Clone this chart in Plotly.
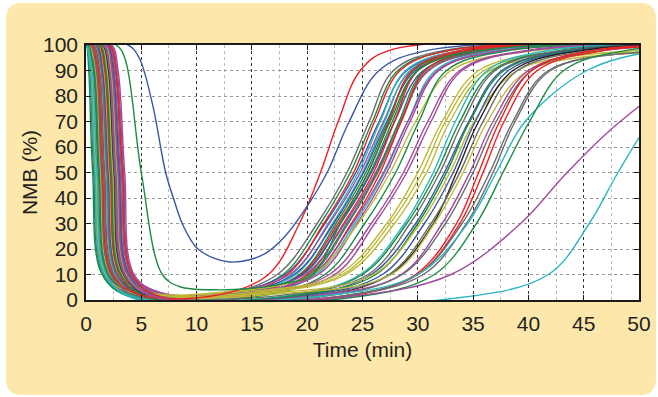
import plotly.graph_objects as go

# ---------------- data ----------------
PALETTE = {
    "blue": "#3A55A4", "green": "#1B8A45", "red": "#ED2024", "cyan": "#2AB6BF",
    "purple": "#A24A9E", "olive": "#BDB935", "black": "#231F20", "gray": "#6B6C6F",
}

COLOR = ["gray", "green", "blue", "red", "cyan", "purple", "cyan", "blue", "green", "red",
         "green", "blue", "red", "purple", "green", "gray", "red", "cyan", "purple", "purple",
         "olive", "green", "purple", "purple", "olive", "olive", "olive", "cyan", "green", "gray",
         "blue", "green", "olive", "blue", "black", "gray", "olive", "purple", "gray", "red",
         "red", "gray", "gray", "cyan", "green", "red", "purple", "cyan"]

# descent: time (min) where NMB leaves 100 %, crosses 90 %, 50 %, 10 %, reaches the floor
D100 = [0.2, 1.25, 0.6, 1.8, 0.05, 2.1, 0.85, 1.5, 0.05, 0.95, 1.9, 0.4, 1.35, 2.2, 0.1, 1.15,
        0.7, 1.6, 0.05, 2.0, 0.5, 1.45, 0.05, 2.3, 1.05, 0.3, 1.7, 0.8, 0.05, 2.1, 0.95, 0.2,
        1.35, 1.9, 1.5, 0.6, 0.05, 1.8, 0.4, 1.15, 2.1, 0.85, 1.6, 0.05, 1.25, 0.5, 1.55, 0.05]
D90 = [0.75, 1.8, 1.15, 2.35, 0.5, 2.7, 1.4, 2.05, 0.35, 1.5, 2.45, 0.95, 1.9, 2.8, 0.65, 1.7,
       1.25, 2.15, 0.4, 2.55, 1.05, 2.0, 0.55, 2.9, 1.6, 0.85, 2.25, 1.35, 0.25, 2.65, 1.5, 0.75,
       1.9, 2.45, 2.05, 1.15, 0.5, 2.35, 0.95, 1.7, 2.7, 1.4, 2.15, 0.4, 1.8, 1.05, 2.1, 0.55]
D50 = [1.2, 2.3, 1.6, 2.9, 0.9, 3.3, 1.9, 2.6, 0.7, 2.0, 3.0, 1.4, 2.4, 3.4, 1.1, 2.2,
       1.7, 2.7, 0.8, 3.1, 1.5, 2.5, 1.0, 3.5, 2.1, 1.3, 2.8, 1.8, 0.6, 3.2, 2.0, 1.2,
       2.4, 3.0, 2.56, 1.6, 0.9, 2.9, 1.4, 2.2, 3.3, 1.9, 2.7, 0.8, 2.3, 1.5, 2.6, 1.0]
D10 = [2.05, 3.15, 2.45, 3.75, 1.75, 4.15, 2.75, 3.45, 1.55, 2.85, 3.85, 2.25, 3.25, 4.25, 1.95, 3.05,
       2.55, 3.55, 1.65, 3.95, 2.35, 3.35, 1.85, 4.35, 2.95, 2.15, 3.65, 2.65, 1.45, 4.05, 2.85, 2.05,
       3.25, 3.85, 3.4, 2.45, 1.75, 3.75, 2.25, 3.05, 4.15, 2.75, 3.55, 1.65, 3.15, 2.35, 3.45, 1.85]
FS = [4.6, 5.7, 5.0, 6.3, 4.3, 6.7, 5.3, 6.0, 4.1, 5.4, 6.4, 4.8, 5.8, 6.8, 4.5, 5.6,
      5.1, 6.1, 4.2, 6.5, 4.9, 5.9, 4.4, 6.9, 5.5, 4.7, 6.2, 5.2, 4.0, 6.6, 5.4, 4.6,
      5.8, 6.4, 6.0, 5.0, 4.3, 6.3, 4.8, 5.6, 6.7, 5.3, 6.1, 4.2, 5.7, 4.9, 6.0, 4.4]
# floor level (%) and time the floor ends
FLOOR = [1.8, 1.5, 2.2, 1.4, 1.0, 2.6, 1.6, 2.0, 1.2, 1.7, 2.4, 1.9, 1.3, 2.8, 1.1, 2.1,
         1.5, 1.8, 2.3, 2.9, 3.0, 1.4, 2.5, 2.7, 3.2, 2.9, 2.6, 1.6, 1.2, 2.0, 1.3, 1.7,
         2.8, 1.4, 0.9, 1.5, 2.6, 1.8, 1.1, 1.0, 1.3, 0.9, 1.2, 1.4, 1.0, 2.0, 1.5, 0.5]
FE = [12, 12.5, 12, 13, 13, 12, 13, 12.5, 13.5, 14, 13, 13, 14.5, 13, 14.5, 14,
      15, 15, 14, 14.5, 12, 15.5, 15.5, 16, 14, 15, 15.5, 18, 18, 18, 19, 19,
      17, 19.5, 20, 20, 18, 21, 21, 23, 23, 22, 22.5, 21, 24, 12, 24, 33]
# recovery: time (min) where NMB crosses 10, 30, 50, 70, 90, 98 %
U10 = [17.3, 17.8, 18.0, 18.2, 18.6, 18.4, 19.0, 18.8, 19.3, 19.4, 19.6, 19.5, 20.0, 19.8, 20.2, 20.3,
       20.6, 20.8, 20.5, 21.0, 20.5, 21.6, 22.0, 22.5, 22.8, 23.2, 23.5, 24.8, 25.0, 25.5, 25.8, 26.2,
       26.0, 26.8, 27.5, 27.4, 27.6, 28.5, 28.6, 29.8, 30.0, 30.0, 30.5, 30.0, 31.5, 16.5, 33.0, 41.8]
U30 = [20.9, 21.2, 21.6, 21.5, 21.9, 22.0, 22.3, 22.4, 22.6, 22.8, 23.0, 23.0, 23.3, 23.4, 23.6, 23.7,
       24.0, 24.3, 24.1, 24.5, 24.6, 25.2, 25.8, 26.1, 27.2, 27.5, 27.9, 28.8, 29.0, 29.3, 29.8, 30.0,
       30.2, 30.6, 31.4, 31.2, 31.5, 32.2, 32.5, 33.5, 33.8, 34.0, 34.4, 34.5, 35.3, 19.3, 39.3, 45.5]
U50 = [23.6, 23.9, 24.4, 24.2, 24.6, 24.8, 25.0, 25.1, 25.3, 25.5, 25.7, 25.8, 26.0, 26.2, 26.3, 26.4,
       26.6, 27.0, 26.9, 27.2, 27.5, 28.0, 28.7, 29.0, 30.0, 30.4, 30.8, 31.4, 31.7, 32.0, 32.4, 32.6,
       32.9, 33.2, 33.5, 33.8, 34.1, 34.7, 35.0, 35.5, 35.9, 36.5, 36.8, 37.1, 37.7, 21.2, 43.5, 48.1]
U70 = [25.6, 25.9, 26.5, 26.1, 26.6, 26.9, 27.0, 27.2, 27.3, 27.4, 27.7, 27.9, 27.9, 28.4, 28.3, 28.5,
       28.5, 29.1, 29.1, 29.3, 29.8, 30.1, 30.9, 31.2, 32.2, 32.5, 32.9, 33.4, 33.8, 34.1, 34.6, 34.7,
       35.1, 35.2, 35.5, 35.9, 36.3, 36.8, 37.1, 37.4, 37.8, 38.6, 38.8, 39.7, 40.1, 22.8, 48.3, 51.0]
U90 = [27.8, 28.2, 29.0, 28.4, 28.9, 29.4, 29.3, 29.8, 29.6, 29.5, 30.0, 30.5, 30.0, 31.0, 30.6, 30.9,
       30.7, 31.6, 31.8, 31.9, 33.0, 32.6, 33.8, 34.0, 35.5, 36.0, 36.5, 36.3, 36.8, 37.0, 37.6, 37.8,
       39.0, 38.2, 38.6, 39.0, 40.0, 40.0, 40.3, 40.3, 40.8, 41.8, 42.0, 45.3, 43.2, 24.8, 55.0, 55.0]
U98 = [32.5, 33.0, 34.5, 33.0, 34.0, 35.0, 34.5, 36.0, 35.0, 34.0, 35.5, 37.0, 34.5, 37.0, 36.0, 36.5,
       35.5, 37.5, 38.0, 38.0, 41.0, 38.5, 40.0, 40.5, 44.0, 46.0, 53.0, 42.0, 43.0, 43.5, 44.0, 44.5,
       50.0, 45.0, 45.0, 46.0, 55.0, 47.0, 47.0, 46.0, 47.0, 52.0, 52.0, 52.0, 49.0, 27.5, 62.0, 60.0]
END_T = 60.0   # all curves return to 100 % beyond the visible range

# two slow-onset outliers, read point by point
BLUE_OUT_T = [0, 3.8, 4.8, 6.0, 7.2, 7.9, 8.8, 10.0, 11.5, 13.0, 14.8, 16.3, 18.0, 20.0, 21.8, 23.8, 26.5, 31.0, 60]
BLUE_OUT_Y = [100, 100, 95, 77, 50, 40, 29, 20.5, 16.5, 14.9, 15.8, 18.5, 25, 36.8, 50, 70, 90, 98, 100]
GREEN_OUT_T = [0, 2.7, 3.5, 5.0, 6.9, 8.5, 11.5, 15.0, 18.0, 20.5, 23.0, 25.5, 27.5, 30.0, 36.0, 60]
GREEN_OUT_Y = [100, 100, 95, 50, 10, 5.2, 4.0, 4.6, 6.5, 10, 30, 50, 70, 90, 98, 100]

X_TICKS = [0, 5, 10, 15, 20, 25, 30, 35, 40, 45, 50]
Y_TICKS = [0, 10, 20, 30, 40, 50, 60, 70, 80, 90, 100]

# ---------------- figure ----------------
W, H = 658, 397
ML, MR, MT, MB = 86, 19, 45, 97
FONT = "Liberation Sans, Arial, sans-serif"
TXT = "#231F20"
FS_TXT = 21

fig = go.Figure()

for i in range(len(COLOR)):
    xs = [0, D100[i], D90[i], D50[i], D10[i], FS[i], FE[i],
          U10[i], U30[i], U50[i], U70[i], U90[i], U98[i], END_T]
    ys = [100, 100, 90, 50, 10, FLOOR[i], FLOOR[i], 10, 30, 50, 70, 90, 98, 100]
    fig.add_trace(go.Scatter(x=xs, y=ys, mode="lines",
                             line=dict(color=PALETTE[COLOR[i]], width=1.4, shape="spline", smoothing=1),
                             hoverinfo="skip"))

fig.add_trace(go.Scatter(x=GREEN_OUT_T, y=GREEN_OUT_Y, mode="lines",
                         line=dict(color=PALETTE["green"], width=1.4, shape="spline", smoothing=1)))
fig.add_trace(go.Scatter(x=BLUE_OUT_T, y=BLUE_OUT_Y, mode="lines",
                         line=dict(color=PALETTE["blue"], width=1.4, shape="spline", smoothing=1)))

# rounded cream panel behind everything (pixel geometry -> paper coords)
pw, ph = W - ML - MR, H - MT - MB
def px(x):
    return (x - ML) / pw
def py(y):
    return (H - MB - y) / ph
L, T, R, B, r = 6, 3, 656, 395, 16
path = (f"M {px(L + r)},{py(T)} L {px(R - r)},{py(T)} Q {px(R)},{py(T)} {px(R)},{py(T + r)} "
        f"L {px(R)},{py(B - r)} Q {px(R)},{py(B)} {px(R - r)},{py(B)} "
        f"L {px(L + r)},{py(B)} Q {px(L)},{py(B)} {px(L)},{py(B - r)} "
        f"L {px(L)},{py(T + r)} Q {px(L)},{py(T)} {px(L + r)},{py(T)} Z")
fig.add_shape(type="path", path=path, xref="paper", yref="paper",
              fillcolor="#FDE7AA", line=dict(width=0), layer="below")
# white plotting area on top of the panel
fig.add_shape(type="rect", x0=0, x1=1, y0=0, y1=1, xref="paper", yref="paper",
              fillcolor="white", line=dict(width=0), layer="below")

axis_common = dict(showline=True, linecolor="#1a1a1a", linewidth=1.5, mirror="allticks",
                   ticks="inside", ticklen=5, tickcolor="#1a1a1a", zeroline=False,
                   tickfont=dict(family=FONT, size=FS_TXT, color=TXT))

fig.update_xaxes(range=[0, 50], tickvals=X_TICKS, showgrid=True, gridcolor="#333333",
                 griddash="dot", gridwidth=1,
                 minor=dict(dtick=2.5, showgrid=True, gridcolor="#BBBBBB", griddash="dot", ticks=""),
                 title=dict(text="Time (min)", font=dict(family=FONT, size=FS_TXT, color=TXT), standoff=8),
                 ticklabelstandoff=4, **axis_common)
fig.update_yaxes(range=[0, 100], tickvals=Y_TICKS, showgrid=True, gridcolor="#9A9A9A",
                 griddash="dot", gridwidth=1,
                 title=dict(text="NMB (%)", font=dict(family=FONT, size=FS_TXT, color=TXT), standoff=0),
                 ticklabelstandoff=2, **axis_common)

fig.update_layout(width=W, height=H, margin=dict(l=ML, r=MR, t=MT, b=MB, autoexpand=False),
                  paper_bgcolor="white", plot_bgcolor="white", showlegend=False,
                  font=dict(family=FONT, color=TXT))

fig.write_html("out.html")
